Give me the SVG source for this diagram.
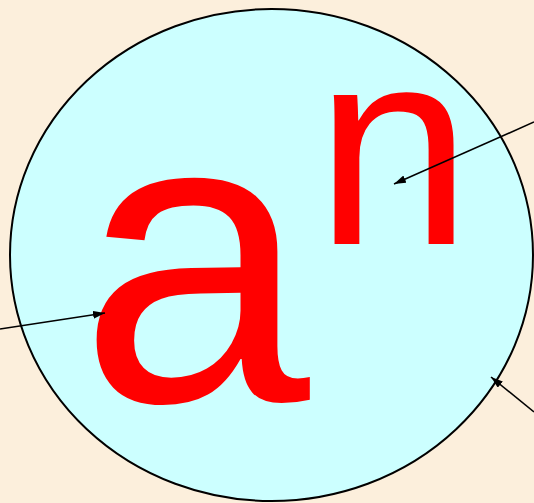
<svg xmlns="http://www.w3.org/2000/svg" width="534" height="503" viewBox="0 0 534 503">
  <style>
    .bg { fill: #FCEFDC; }
    .shape { fill: #CCFFFF; stroke: #000000; stroke-width: 2; }
    .big { fill: #FF0000; font-family: "Liberation Sans", Arial, sans-serif; }
    .conn { stroke: #000000; stroke-width: 1.6; fill: none; marker-end: url(#arrow); }
  </style>
  <defs>
    <marker id="arrow" viewBox="0 0 12 8" refX="12" refY="4" markerWidth="12" markerHeight="8" markerUnits="userSpaceOnUse" orient="auto">
      <path d="M0,0 L12,4 L0,8 Z" fill="#000000"/>
    </marker>
  </defs>
  <rect class="bg" x="0" y="0" width="534" height="503"/>
  <g id="circle">
    <ellipse class="shape" cx="271.5" cy="255" rx="261.5" ry="246"/>
  </g>
  <g id="base">
    <text class="big" x="79" y="401" font-size="415">a</text>
  </g>
  <g id="exponent">
    <text class="big" x="315" y="244" font-size="282">n</text>
  </g>
  <g id="connectors">
    <line class="conn" x1="0" y1="329" x2="105" y2="313"/>
    <line class="conn" x1="534" y1="122" x2="394" y2="184"/>
    <line class="conn" x1="534" y1="412" x2="491" y2="377"/>
  </g>
</svg>
